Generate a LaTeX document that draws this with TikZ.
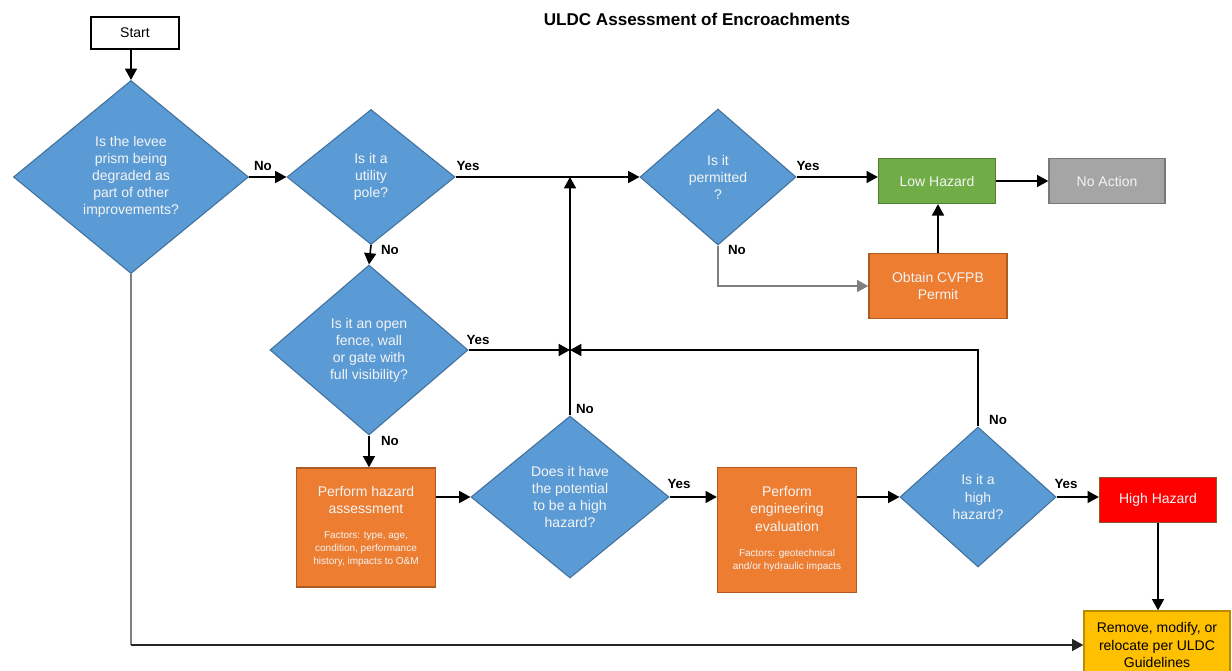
\documentclass[tikz,border=0pt]{standalone}
\usepackage{fontspec}
\setmainfont{Liberation Sans}
\usetikzlibrary{shapes.geometric,arrows.meta}
\definecolor{dblue}{HTML}{5B9BD5}
\definecolor{dbluel}{HTML}{41719C}
\definecolor{orng}{HTML}{ED7D31}
\definecolor{orngl}{HTML}{AE5A21}
\definecolor{grn}{HTML}{70AD47}
\definecolor{grnl}{HTML}{507E32}
\definecolor{gry}{HTML}{A5A5A5}
\definecolor{gryl}{HTML}{787878}
\definecolor{rd}{HTML}{FF0000}
\definecolor{rdl}{HTML}{8B5A2B}
\definecolor{ylw}{HTML}{FFC000}
\definecolor{ylwl}{HTML}{BC8C00}
\definecolor{txtw}{HTML}{F4F4F4}
\definecolor{lgray}{HTML}{7F7F7F}
\newcommand{\factfont}{\fontsize{7.5}{9.6}\selectfont}
\begin{document}
\begin{tikzpicture}[x=0.75pt,y=-0.75pt,
  dec/.style={shape=diamond,fill=dblue,draw=dbluel,line width=0.8pt,inner sep=0pt,
    text=txtw,align=center,font=\fontsize{10.5}{12.8}\selectfont},
  boxn/.style={shape=rectangle,line width=1pt,inner sep=0pt,align=center,
    text=txtw,font=\fontsize{10.5}{12.8}\selectfont},
  obox/.style={boxn,fill=orng,draw=orngl},
  lbl/.style={font=\bfseries\fontsize{10}{12}\selectfont,inner sep=0pt},
  arr/.style={line width=1.2pt,-{Triangle[length=8.5pt,width=9pt]}},
  ln/.style={line width=1.2pt}
]
\useasboundingbox (0,0) rectangle (1232,671);

\node[font=\bfseries\fontsize{12.8}{15}\selectfont] (title) at (697,19) {ULDC Assessment of Encroachments};

\node[boxn,draw=black,fill=white,text=black,minimum width=66pt,minimum height=24pt,line width=1.2pt] (st) at (135,33) {Start};

\node[dec,minimum width=176.3pt,minimum height=144.8pt] (d1) at (131,177)
  {Is the levee\\prism being\\degraded as\\part of other\\improvements?};
\node[dec,minimum width=126pt,minimum height=101.25pt] (d2) at (371,177)
  {Is it a\\utility\\pole?};
\node[dec,minimum width=117pt,minimum height=102pt] (d3) at (718,177)
  {Is it\\permitted\\?};
\node[dec,minimum width=148.5pt,minimum height=127.5pt] (d4) at (369,350)
  {Is it an open\\fence, wall\\or gate with\\full visibility?};
\node[dec,minimum width=148.5pt,minimum height=121.5pt] (d5) at (570,497)
  {Does it have\\the potential\\to be a high\\hazard?};
\node[dec,minimum width=117pt,minimum height=105pt] (d6) at (978,497)
  {Is it a\\high\\hazard?};

\node[boxn,fill=grn,draw=grnl,minimum width=87.75pt,minimum height=33.75pt] (lh) at (937,181) {Low Hazard};
\node[boxn,fill=gry,draw=gryl,minimum width=87pt,minimum height=33.75pt] (na) at (1107,181) {No Action};
\node[obox,minimum width=103.5pt,minimum height=48.75pt] (pm) at (938,286) {Obtain CVFPB\\Permit};
\node[obox,minimum width=104.25pt,minimum height=89.25pt] (hz) at (366,527.5)
  {Perform hazard\\assessment\\[11pt]\factfont\begin{tabular}{@{}c@{}}Factors: type, age,\\condition, performance\\history, impacts to O\&M\end{tabular}};
\node[obox,minimum width=104.25pt,minimum height=93.75pt] (ev) at (787,530)
  {Perform\\engineering\\evaluation\\[11pt]\factfont\begin{tabular}{@{}c@{}}Factors: geotechnical\\and/or hydraulic impacts\end{tabular}};
\node[boxn,fill=rd,draw=rdl,minimum width=87.75pt,minimum height=33.75pt] (hh) at (1158,500) {High Hazard};
\node[boxn,fill=ylw,draw=ylwl,text=black,minimum width=109.5pt,minimum height=51pt] (rm) at (1157,645)
  {Remove, modify, or\\relocate per ULDC\\Guidelines};

% labels
\node[lbl] (l1) at (263,166) {No};
\node[lbl] (l2) at (468,166) {Yes};
\node[lbl] (l3) at (390,250) {No};
\node[lbl] (l4) at (808,166) {Yes};
\node[lbl] (l5) at (737,250) {No};
\node[lbl] (l6) at (478,340) {Yes};
\node[lbl] (l7) at (390,441) {No};
\node[lbl] (l8) at (585,409) {No};
\node[lbl] (l9) at (679,484) {Yes};
\node[lbl] (l10) at (998,420) {No};
\node[lbl] (l11) at (1066,484) {Yes};

% connectors
\coordinate (j) at (d5.north |- d4.east);
\coordinate (c1) at (d1.south |- rm.west);
\draw[arr] (d1.north |- st.south) -- (d1.north);
\draw[arr] (d1.east) -- (d2.west);
\draw[arr] (d2.east) -- (d3.west);
\draw[arr] (d3.east) -- (d3.east -| lh.west);
\draw[arr] (lh.east) -- (lh.east -| na.west);
\draw[arr, draw=lgray] (d3.south) |- (pm.west);
\draw[arr] (pm.north) -- (pm.north |- lh.south);
\draw[arr] (d2.south) -- (d4.north);
\draw[arr] (d4.east) -- (j);
\draw[arr] (d4.south) -- (d4.south |- hz.north);
\draw[arr] (hz.east |- d5.west) -- (d5.west);
\draw[arr] (d5.north) -- (d5.north |- d2.east);
\draw[arr] (d5.east) -- (d5.east -| ev.west);
\draw[arr] (ev.east |- d6.west) -- (d6.west);
\draw[arr] (d6.north) -- (d6.north |- j) -- (j);
\draw[arr] (d6.east) -- (d6.east -| hh.west);
\draw[arr] (hh.south) -- (hh.south |- rm.north);
\draw[ln, draw=lgray] (d1.south) -- (c1);
\draw[arr, draw=black!85] (c1) -- (rm.west);
\end{tikzpicture}
\end{document}
